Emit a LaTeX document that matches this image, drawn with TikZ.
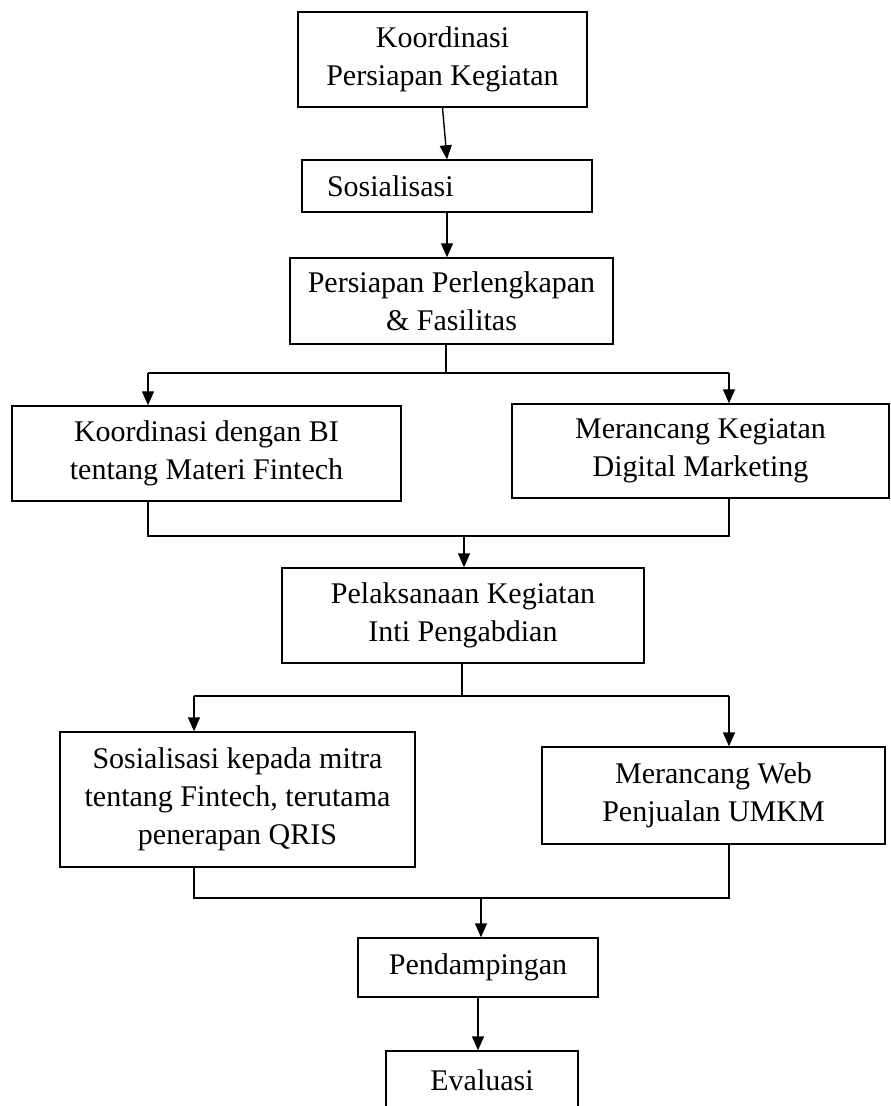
\documentclass[tikz,border=0pt]{standalone}
\usepackage{fontspec}
\setmainfont{Liberation Serif}
\usetikzlibrary{arrows.meta}

\begin{document}
\begin{tikzpicture}[x=0.5pt,y=-0.5pt,line width=0.7pt,
  box/.style={draw,align=center,inner sep=2pt,font=\fontsize{15pt}{19pt}\selectfont},
  arr/.style={-{Triangle[length=7pt,width=6pt]}}]

\useasboundingbox (0,0) rectangle (890,1106);

\node[box,minimum width=144.5pt,minimum height=47.5pt] (koord) at (442.5,59.5) {Koordinasi\\Persiapan Kegiatan};
\node[box,minimum width=145pt,minimum height=26pt,text width=120pt,inner xsep=12.5pt,align=left] (sosial) at (447,186) {Sosialisasi};
\node[box,minimum width=161.5pt,minimum height=43pt] (perleng) at (451.5,301) {Persiapan Perlengkapan\\\& Fasilitas};

\node[box,minimum width=194.5pt,minimum height=47.5pt] (koordbi) at (206.5,453.5) {Koordinasi dengan BI\\tentang Materi Fintech};
\node[box,minimum width=188.5pt,minimum height=47pt] (rancang) at (700.5,451) {Merancang Kegiatan\\Digital Marketing};
\node[box,minimum width=181pt,minimum height=47.5pt] (inti) at (463,615.5) {Pelaksanaan Kegiatan\\Inti Pengabdian};

\node[box,minimum width=177.5pt,minimum height=67.5pt] (qris) at (237.5,799.5) {Sosialisasi kepada mitra\\tentang Fintech, terutama\\penerapan QRIS};
\node[box,minimum width=171.5pt,minimum height=48.5pt] (web) at (713.5,795.5) {Merancang Web\\Penjualan UMKM};
\node[box,minimum width=120pt,minimum height=29.5pt] (damping) at (478,967.5) {Pendampingan};
\node[box,minimum width=96pt,minimum height=29pt] (eval) at (482,1080) {Evaluasi};

\coordinate (s1) at (446,373);
\coordinate (s1l) at (148,373);
\coordinate (s1r) at (729,373);
\coordinate (m1) at (464,536);
\coordinate (m1l) at (148,536);
\coordinate (m1r) at (729,536);
\coordinate (s2) at (462,696);
\coordinate (s2l) at (194,696);
\coordinate (s2r) at (729,696);
\coordinate (m2) at (481,898);
\coordinate (m2l) at (194,898);
\coordinate (m2r) at (729,898);

\draw[arr] (koord.south) -- (sosial.north);
\draw[arr] (sosial) -- (sosial |- perleng.north);

\draw (perleng.south -| s1) -- (s1);
\draw (s1l) -- (s1r);
\draw[arr] (s1l) -- (s1l |- koordbi.north);
\draw[arr] (s1r) -- (s1r |- rancang.north);

\draw (koordbi.south -| m1l) -- (m1l) -- (m1r) -- (rancang.south -| m1r);
\draw[arr] (m1) -- (m1 |- inti.north);

\draw (inti.south -| s2) -- (s2);
\draw (s2l) -- (s2r);
\draw[arr] (s2l) -- (s2l |- qris.north);
\draw[arr] (s2r) -- (s2r |- web.north);

\draw (qris.south -| m2l) -- (m2l) -- (m2r) -- (web.south -| m2r);
\draw[arr] (m2) -- (m2 |- damping.north);
\draw[arr] (damping) -- (damping |- eval.north);
\end{tikzpicture}
\end{document}
